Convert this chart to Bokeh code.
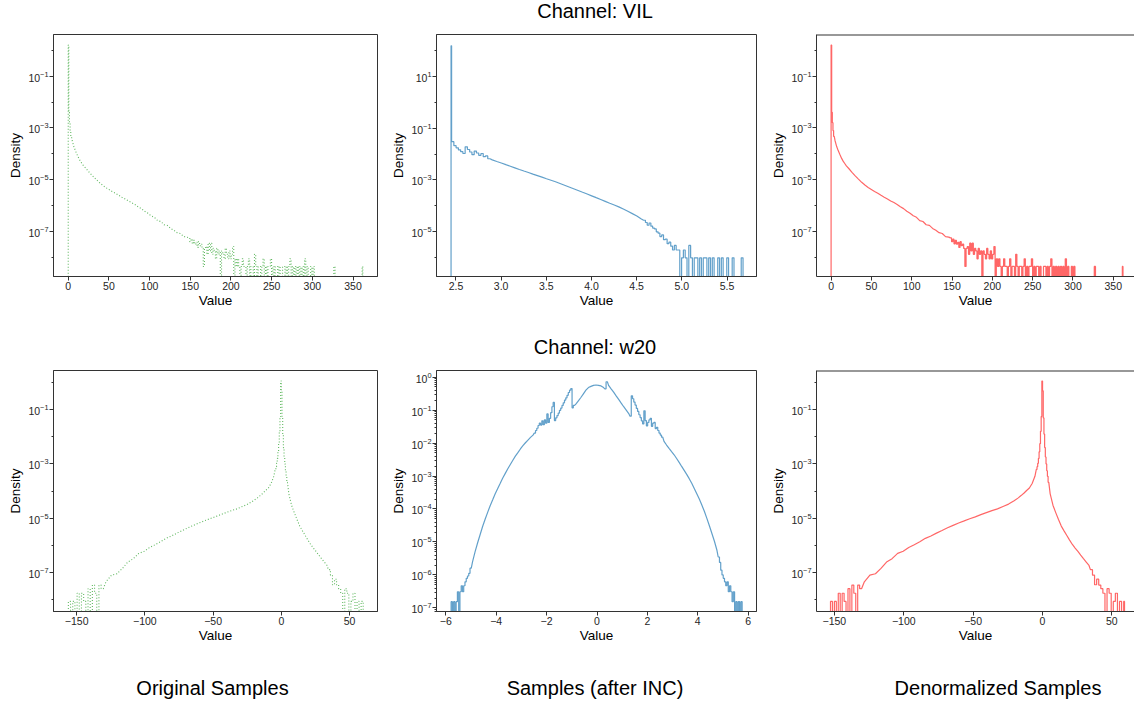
from bokeh.plotting import figure
from bokeh.layouts import column, row
from bokeh.models import Range1d, FixedTicker, Span
from bokeh.core.properties import value
from bokeh.embed import file_html
from bokeh.resources import INLINE

FONT = "Liberation Sans"

# ---------------- data (bin segments: (start, width, count)) ----------------
vil_original_bins = [(0.0, 0.72, 1), (0.72, 0.8, 4), (3.92, 2.0, 8), (19.92, 4.0, 32),
                     (147.92, 1.5, 103), (302.42, 24.0, 1), (326.42, 1.5, 1),
                     (327.92, 33.3, 1), (361.22, 0.8, 1)]
vil_original_density = [
    1.6, 4.0e-3, 1.6e-3, 7.9e-4, 4.7e-4, 3.2e-4, 1.9e-4, 1.3e-4, 9.3e-5, 6.8e-5, 5.2e-5, 4.2e-5, 3.4e-5,
    2.7e-5, 1.9e-5, 1.4e-5, 1.05e-5, 7.9e-6, 6.2e-6, 5.0e-6, 4.2e-6, 3.5e-6, 3.0e-6,
    2.5e-6, 2.1e-6, 1.8e-6, 1.5e-6, 1.3e-6, 1.1e-6, 8.9e-7, 7.6e-7, 6.0e-7, 5.0e-7,
    4.0e-7, 3.5e-7, 2.6e-7, 2.4e-7, 1.8e-7, 1.7e-7, 1.3e-7, 1.1e-7, 8.9e-8, 8.3e-8,
    6.3e-8, 6.0e-8,
    5.6e-8, 4.0e-8, 5.0e-8, 3.3e-8, 4.5e-8, 3.2e-8, 3.8e-8, 2.4e-8, 4.0e-8, 2.8e-8,
    3.2e-8, 2.2e-8, 4.4e-9, 2.2e-8, 2.6e-8, 1.3e-8, 3.5e-8, 1.75e-8, 3.5e-8, 1.3e-8,
    2.2e-8, 1.75e-8, 8.7e-9, 2.2e-8, 1.3e-8, 1.75e-8, 0, 1.75e-8, 1.3e-8, 8.7e-9,
    2.2e-8, 1.3e-8, 8.7e-9, 1.75e-8, 8.7e-9, 1.3e-8, 2.6e-8, 0, 8.7e-9, 4.4e-9,
    8.7e-9, 4.4e-9, 0, 4.4e-9, 8.7e-9, 4.4e-9, 4.4e-9, 0, 4.4e-9, 8.7e-9,
    0, 4.4e-9, 4.4e-9, 0, 1.3e-8, 4.4e-9, 0, 4.4e-9, 4.4e-9, 0,
    4.4e-9, 8.7e-9, 0, 4.4e-9, 0, 4.4e-9, 4.4e-9, 8.7e-9, 0, 4.4e-9,
    0, 4.4e-9, 4.4e-9, 0, 4.4e-9, 0, 0, 4.4e-9, 4.4e-9, 0,
    4.4e-9, 0, 4.4e-9, 8.7e-9, 0, 4.4e-9, 0, 4.4e-9, 0, 4.4e-9,
    0, 4.4e-9, 0, 4.4e-9, 0, 8.7e-9, 0, 4.4e-9, 0, 0,
    4.4e-9, 0, 4.4e-9,
    0, 4.4e-9, 0, 4.4e-9]

vil_inc_bins = [(2.446, 0.006, 1), (2.452, 0.025, 17), (2.877, 0.05, 34), (4.577, 0.02, 55)]
vil_inc_density = [
    150.0,
    3.0e-2, 2.1e-2, 1.74e-2, 1.45e-2, 1.23e-2, 1.05e-2, 1.9e-2, 1.5e-2, 1.2e-2, 9.5e-3,
    1.3e-2, 1.1e-2, 8.9e-3, 1.05e-2, 7.9e-3, 8.5e-3, 6.6e-3,
    5.97e-3, 5.18e-3, 4.50e-3, 3.90e-3, 3.39e-3, 2.94e-3, 2.55e-3, 2.22e-3, 1.94e-3, 1.69e-3,
    1.48e-3, 1.29e-3, 1.12e-3, 9.8e-4, 8.53e-4, 7.31e-4, 6.27e-4, 5.37e-4, 4.60e-4, 3.94e-4,
    3.37e-4, 2.89e-4, 2.45e-4, 2.08e-4, 1.77e-4, 1.50e-4, 1.27e-4, 1.08e-4, 9.18e-5, 7.59e-5,
    6.19e-5, 5.06e-5, 4.12e-5, 3.14e-5,
    2.8e-5, 2.3e-5, 1.8e-5, 2.2e-5, 1.66e-5, 1.4e-5, 1.3e-5, 1.0e-5, 8.9e-6, 6.6e-6,
    7.6e-6, 5.0e-6, 5.2e-6, 3.5e-6, 4.0e-6, 2.8e-6, 2.0e-6, 3.0e-6, 2.0e-6, 2.0e-6,
    0, 1.0e-6, 2.0e-6, 1.0e-6, 0, 3.0e-6, 1.0e-6, 0, 1.0e-6, 1.0e-6,
    0, 1.0e-6, 0, 1.0e-6, 1.0e-6, 0, 1.0e-6, 0, 1.0e-6, 0,
    0, 1.0e-6, 0, 1.0e-6, 0, 0, 1.0e-6, 0, 0, 1.0e-6,
    0, 0, 0, 0, 1.0e-6]

vil_denorm_bins = vil_original_bins
vil_denorm_density = vil_original_density

w20_original_bins = [(-156.1, 1.6, 16), (-130.5, 4.0, 28), (-18.5, 2.0, 7), (-4.5, 0.5, 18),
                     (4.5, 2.0, 15), (34.5, 1.5, 17)]
w20_original_density = [
    8.5e-9, 0, 8.5e-9, 0, 1.7e-8, 0, 1.7e-8, 8.5e-9, 0, 2.5e-8, 0, 3.4e-8, 1.7e-8, 0, 3.4e-8, 2.5e-8,
    4.5e-8, 7.9e-8, 8.9e-8, 1.4e-7, 2.4e-7, 3.2e-7, 5.0e-7, 6.0e-7, 8.3e-7, 1.05e-6,
    1.35e-6, 1.8e-6, 2.2e-6, 2.8e-6, 3.5e-6, 4.4e-6, 5.4e-6, 6.6e-6, 7.9e-6, 9.5e-6,
    1.12e-5, 1.35e-5, 1.6e-5, 1.9e-5, 2.2e-5, 2.7e-5, 3.3e-5, 4.4e-5,
    5.6e-5, 6.8e-5, 8.3e-5, 1.05e-4, 1.3e-4, 1.9e-4, 3.5e-4,
    6.3e-4, 7.9e-4, 1.05e-3, 1.6e-3, 2.8e-3, 5.6e-3, 1.6e-2, 5.6e-2, 1.15,
    0.5, 5.0e-2, 1.26e-2, 4.0e-3, 1.8e-3, 1.0e-3, 5.6e-4, 3.5e-4, 2.1e-4,
    7.9e-5, 3.0e-5, 1.6e-5, 8.9e-6, 5.1e-6, 3.4e-6, 2.3e-6, 1.55e-6, 1.07e-6, 7.9e-7,
    5.9e-7, 4.3e-7, 3.2e-7, 2.4e-7, 1.8e-7,
    1.26e-7, 7.9e-8, 3.5e-8, 5.6e-8, 3.4e-8, 2.5e-8, 1.7e-8, 0, 2.5e-8, 1.7e-8,
    0, 8.5e-9, 1.7e-8, 0, 8.5e-9, 0, 8.5e-9]

w20_inc_bins = [(-5.79, 0.05, 16), (-4.99, 0.1, 25), (-2.49, 0.05, 32), (-0.89, 0.1, 12),
                (0.31, 0.05, 2), (0.41, 0.1, 9), (1.31, 0.05, 26), (2.61, 0.1, 22), (4.81, 0.05, 19)]
w20_inc_density = [
    1.55e-7, 0, 1.55e-7, 0, 1.55e-7, 3.1e-7, 0, 3.1e-7, 4.7e-7, 3.1e-7, 4.7e-7, 6.2e-7,
    7.9e-7, 9.3e-7, 1.12e-6, 1.6e-6,
    2.5e-6, 5.0e-6, 9.3e-6, 1.66e-5, 2.95e-5, 4.9e-5, 7.9e-5, 1.26e-4, 1.9e-4, 2.9e-4,
    4.2e-4, 6.0e-4, 8.7e-4, 1.2e-3, 1.66e-3, 2.24e-3, 3.0e-3, 4.0e-3, 5.1e-3, 6.6e-3,
    8.3e-3, 1.02e-2, 1.23e-2, 1.48e-2, 1.74e-2,
    2.0e-2, 2.4e-2, 2.8e-2, 3.4e-2, 4.0e-2, 3.5e-2, 4.7e-2, 3.6e-2, 5.0e-2, 4.0e-2,
    7.6e-2, 4.2e-2, 5.6e-2, 8.3e-2, 0.126, 0.17,
    4.8e-2, 5.8e-2, 6.8e-2, 8.1e-2, 9.8e-2, 0.115, 0.138, 0.166, 0.2, 0.234, 0.28, 0.34, 0.4, 0.45,
    0.117, 0.138,
    0.151, 0.19, 0.24, 0.31, 0.4, 0.48, 0.52, 0.56, 0.575, 0.56, 0.54, 0.48,
    0.44, 0.72,
    0.56, 0.44, 0.35, 0.27, 0.21, 0.162, 0.126, 0.1, 7.8e-2,
    6.5e-2, 0.27, 0.22, 0.174, 0.141, 0.112, 9.1e-2, 7.2e-2, 5.9e-2, 4.7e-2, 3.8e-2,
    9.5e-2, 4.8e-2, 3.3e-2, 4.2e-2, 5.0e-2, 5.6e-2, 3.2e-2, 4.0e-2, 4.2e-2, 2.75e-2,
    3.0e-2, 2.4e-2, 2.0e-2, 1.74e-2, 1.5e-2,
    1.12e-2, 8.7e-3, 6.9e-3, 5.5e-3, 4.4e-3, 3.4e-3, 2.6e-3, 1.95e-3, 1.48e-3, 1.12e-3,
    8.3e-4, 6.0e-4, 4.2e-4, 2.9e-4, 2.0e-4, 1.32e-4, 8.5e-5, 5.2e-5, 3.1e-5, 1.8e-5,
    1.05e-5, 5.6e-6,
    3.5e-6, 2.4e-6, 1.4e-6, 1.0e-6, 7.9e-7, 6.2e-7, 4.7e-7, 6.2e-7, 3.1e-7, 4.7e-7,
    3.1e-7, 1.55e-7, 3.1e-7, 0, 1.55e-7, 0, 1.55e-7, 0, 1.55e-7]

w20_denorm_bins = [(-152.8, 1.4, 16), (-130.4, 4.0, 28), (-18.4, 2.0, 7), (-4.4, 0.5, 18),
                   (4.6, 2.0, 15), (34.6, 1.5, 16), (58.6, 0.6, 1)]
w20_denorm_density = w20_original_density

# tick definitions
vil_x_ticks = [0, 50, 100, 150, 200, 250, 300, 350]
vil_x_labels = ["0", "50", "100", "150", "200", "250", "300", "350"]
inc_vil_x_ticks = [2.5, 3, 3.5, 4, 4.5, 5, 5.5]
inc_vil_x_labels = ["2.5", "3.0", "3.5", "4.0", "4.5", "5.0", "5.5"]
w20_x_ticks = [-150, -100, -50, 0, 50]
w20_x_labels = ["\u2212150", "\u2212100", "\u221250", "0", "50"]
inc_w20_x_ticks = [-6, -4, -2, 0, 2, 4, 6]
inc_w20_x_labels = ["\u22126", "\u22124", "\u22122", "0", "2", "4", "6"]

column_titles = ["Original Samples", "Samples (after INC)", "Denormalized Samples"]
channel_titles = ["Channel: VIL", "Channel: w20"]

W = 1134
EDGE = "#333333"


def outline(segments, density, floor, smooth=()):
    n = sum(c for _, _, c in segments)
    assert n == len(density), (n, len(density))
    xs, ys = [segments[0][0]], [floor]
    k = 0
    for si, (start, width, count) in enumerate(segments):
        for i in range(count):
            d = density[k]
            k += 1
            v = d if d > 0 else floor
            left = start + width * i
            if si in smooth:
                xs.append(left + width / 2.0)
                ys.append(v)
            else:
                xs += [left, left + width]
                ys += [v, v]
    xs.append(xs[-1])
    ys.append(floor)
    return xs, ys


def panel(width, height, borders, xr, yr, xt, xl, ymaj, ymin, open_right=False):
    bl, br, bt, bb = borders
    p = figure(width=width, height=height, x_range=Range1d(*xr), y_range=Range1d(*yr),
               y_axis_type="log", output_backend="svg", toolbar_location=None,
               min_border_left=bl, min_border_right=br, min_border_top=bt, min_border_bottom=bb,
               background_fill_color="white", border_fill_color="white")
    p.grid.visible = False
    if open_right:
        p.outline_line_color = None
        p.add_layout(Span(location=yr[1], dimension="width", line_color=EDGE, line_width=2))
    else:
        p.outline_line_color = EDGE
        p.outline_line_width = 1
        p.outline_line_alpha = 1
    p.xaxis.ticker = FixedTicker(ticks=xt)
    p.xaxis.major_label_overrides = {t: s for t, s in zip(xt, xl)}
    p.yaxis.ticker = FixedTicker(ticks=ymaj, minor_ticks=ymin)
    for ax in (p.xaxis[0], p.yaxis[0]):
        ax.axis_line_color = EDGE
        ax.major_tick_line_color = EDGE
        ax.minor_tick_line_color = EDGE
        ax.major_tick_out = 4
        ax.major_tick_in = 0
        ax.minor_tick_out = 2
        ax.minor_tick_in = 0
        ax.major_label_text_font = FONT
        ax.major_label_text_font_size = "10.5px"
        ax.major_label_text_color = "#262626"
        ax.major_label_standoff = 1
        ax.axis_label_text_font = FONT
        ax.axis_label_text_font_size = "13.5px"
        ax.axis_label_text_font_style = "normal"
        ax.axis_label_text_color = "black"
    p.xaxis.axis_label_standoff = 0
    p.yaxis.axis_label_standoff = 2
    p.xaxis.axis_label = "Value"
    p.yaxis.axis_label = "Density"
    return p


def draw(p, segments, density, color, alpha, dash, lw, smooth=()):
    xs, ys = outline(segments, density, 1e-12, smooth)
    p.line(xs, ys, line_color=color, line_alpha=alpha, line_width=lw, line_dash=dash)


def text_strip(height, xs, ys, texts):
    t = figure(width=W, height=height, x_range=Range1d(0, W), y_range=Range1d(height, 0),
               output_backend="svg", toolbar_location=None, min_border=0,
               x_axis_location=None, y_axis_location=None, outline_line_color=None,
               background_fill_color="white", border_fill_color="white")
    t.grid.visible = False
    t.text(x=xs, y=ys, text=texts, text_font=value(FONT), text_font_size=value("20px"),
           text_align="center", text_baseline="alphabetic", text_color="black")
    return t


dec_major = [1e-1, 1e-3, 1e-5, 1e-7]
dec_minor = [1e0, 1e-2, 1e-4, 1e-6, 1e-8]
vil_inc_major = [1e1, 1e-1, 1e-3, 1e-5]
vil_inc_minor = [1e2, 1e0, 1e-2, 1e-4, 1e-6]
w20_inc_major = [1e0, 1e-1, 1e-2, 1e-3, 1e-4, 1e-5, 1e-6, 1e-7]
w20_inc_minor = [k * 10.0 ** e for e in range(-8, 1) for k in range(2, 10)]

H1, H2 = 296, 294
b1 = (4, 50)
b2 = (4, 49)
GREEN, BLUE, RED = "#2ca02c", "#1f77b4", "#ff0000"

p1 = panel(388, H1, (53, 11) + b1, (-18.1, 380.1), (1.8e-9, 4.1), vil_x_ticks, vil_x_labels, dec_major, dec_minor)
draw(p1, vil_original_bins, vil_original_density, GREEN, 0.75, "1 2", 1.1, smooth=(2, 3))

p2 = panel(380, H1, (45, 12) + b1, (2.285, 5.826), (1.9e-7, 407.0), inc_vil_x_ticks, inc_vil_x_labels, vil_inc_major, vil_inc_minor)
draw(p2, vil_inc_bins, vil_inc_density, BLUE, 0.7, "solid", 1.2, smooth=(2,))

p3 = panel(366, H1, (45, 0) + b1, (-18.1, 376.3), (1.8e-9, 4.1), vil_x_ticks, vil_x_labels, dec_major, dec_minor, open_right=True)
draw(p3, vil_denorm_bins, vil_denorm_density, RED, 0.6, "solid", 1.2, smooth=(2, 3))

p4 = panel(388, H2, (53, 11) + b2, (-167.0, 70.5), (3.6e-9, 2.8), w20_x_ticks, w20_x_labels, dec_major, dec_minor)
draw(p4, w20_original_bins, w20_original_density, GREEN, 0.75, "1 2", 1.1, smooth=(1, 2, 4))

p5 = panel(380, H2, (46, 12) + b2, (-6.37, 6.33), (7.8e-8, 1.58), inc_w20_x_ticks, inc_w20_x_labels, w20_inc_major, w20_inc_minor)
draw(p5, w20_inc_bins, w20_inc_density, BLUE, 0.7, "solid", 1.2, smooth=(1, 3, 5, 7))

p6 = panel(366, H2, (45, 0) + b2, (-162.9, 66.4), (3.6e-9, 2.8), w20_x_ticks, w20_x_labels, dec_major, dec_minor, open_right=True)
draw(p6, w20_denorm_bins, w20_denorm_density, RED, 0.6, "solid", 1.2, smooth=(1, 2, 4))

top = text_strip(30, [594.5], [10], [channel_titles[0]])
mid = text_strip(40, [594.5], [20.3], [channel_titles[1]])
bottom = text_strip(40, [212, 594.5, 997.5], [27, 27, 27], column_titles)

layout = column(top, row(p1, p2, p3), mid, row(p4, p5, p6), bottom)
open("out.html", "w").write(file_html(layout, INLINE))
